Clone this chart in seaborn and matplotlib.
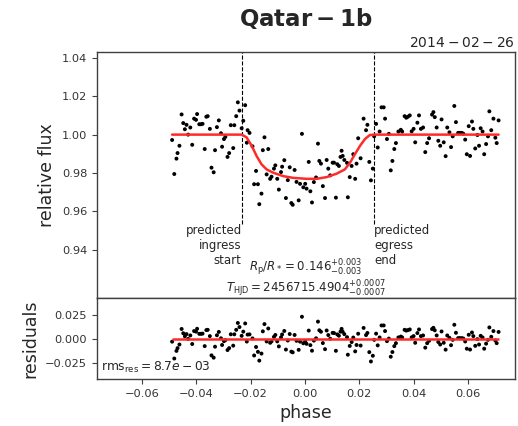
import numpy as np
import pandas as pd
import seaborn as sns
import matplotlib.pyplot as plt

# light curve data
phase = [
    -0.0489, -0.0481, -0.0473, -0.0469, -0.0462, -0.0454, -0.0448, -0.0442, -0.0436, -0.0430,
    -0.0422, -0.0415, -0.0408, -0.0401, -0.0397, -0.0389, -0.0383, -0.0377, -0.0369, -0.0363,
    -0.0358, -0.0350, -0.0344, -0.0336, -0.0331, -0.0324, -0.0317, -0.0309, -0.0305, -0.0298,
    -0.0293, -0.0285, -0.0279, -0.0273, -0.0264, -0.0260, -0.0253, -0.0247, -0.0241, -0.0233,
    -0.0227, -0.0220, -0.0214, -0.0211, -0.0204, -0.0193, -0.0187, -0.0180, -0.0173, -0.0168,
    -0.0160, -0.0155, -0.0149, -0.0141, -0.0135, -0.0128, -0.0123, -0.0114, -0.0109, -0.0102,
    -0.0096, -0.0088, -0.0084, -0.0076, -0.0070, -0.0063, -0.0056, -0.0050, -0.0045, -0.0038,
    -0.0031, -0.0023, -0.0018, -0.0011, -0.0006, 0.0001, 0.0006, 0.0014, 0.0020, 0.0026,
    0.0033, 0.0041, 0.0048, 0.0053, 0.0059, 0.0066, 0.0074, 0.0080, 0.0086, 0.0093,
    0.0102, 0.0107, 0.0114, 0.0119, 0.0125, 0.0131, 0.0135, 0.0139, 0.0145, 0.0155,
    0.0158, 0.0165, 0.0172, 0.0178, 0.0185, 0.0190, 0.0196, 0.0205, 0.0216, 0.0225,
    0.0230, 0.0237, 0.0243, 0.0250, 0.0255, 0.0262, 0.0268, 0.0275, 0.0282, 0.0290,
    0.0295, 0.0302, 0.0309, 0.0316, 0.0322, 0.0329, 0.0335, 0.0344, 0.0353, 0.0358,
    0.0367, 0.0373, 0.0379, 0.0386, 0.0393, 0.0400, 0.0406, 0.0414, 0.0420, 0.0427,
    0.0435, 0.0443, 0.0450, 0.0457, 0.0468, 0.0473, 0.0478, 0.0485, 0.0491, 0.0498,
    0.0503, 0.0511, 0.0518, 0.0524, 0.0532, 0.0538, 0.0544, 0.0550, 0.0556, 0.0564,
    0.0570, 0.0577, 0.0583, 0.0590, 0.0596, 0.0603, 0.0608, 0.0615, 0.0620, 0.0627,
    0.0635, 0.0641, 0.0647, 0.0654, 0.0660, 0.0667, 0.0674, 0.0679, 0.0686, 0.0694,
    0.0701, 0.0706, 0.0713,
]
flux = [
    0.9972, 0.9795, 0.9875, 0.9904, 0.9942, 1.0105, 1.0060, 1.0028, 1.0051, 1.0000,
    1.0037, 0.9947, 1.0083, 1.0077, 1.0107, 1.0054, 1.0054, 1.0056, 0.9925, 1.0093,
    1.0096, 1.0030, 0.9828, 0.9804, 0.9919, 1.0039, 1.0074, 1.0007, 0.9937, 0.9977,
    0.9988, 0.9884, 0.9904, 1.0049, 0.9930, 1.0049, 1.0096, 1.0168, 1.0125, 1.0033,
    1.0072, 1.0153, 0.9958, 1.0023, 1.0009, 0.9939, 0.9742, 0.9811, 0.9742, 0.9638,
    0.9693, 0.9919, 0.9986, 0.9793, 0.9925, 0.9770, 0.9781, 0.9823, 0.9840, 0.9770,
    0.9714, 0.9805, 0.9833, 0.9867, 0.9670, 0.9763, 0.9830, 0.9644, 0.9635, 0.9816,
    0.9754, 0.9658, 0.9744, 1.0004, 0.9726, 0.9744, 0.9719, 0.9858, 0.9705, 0.9647,
    0.9753, 0.9777, 0.9953, 0.9863, 0.9849, 0.9732, 0.9670, 0.9868, 0.9823, 0.9788,
    0.9854, 0.9854, 0.9672, 0.9846, 0.9837, 0.9884, 0.9916, 0.9889, 0.9868, 0.9853,
    0.9674, 0.9779, 0.9837, 0.9898, 0.9770, 0.9849, 0.9981, 0.9877, 1.0083, 1.0023,
    1.0051, 0.9858, 0.9762, 0.9823, 0.9991, 1.0056, 0.9933, 1.0016, 1.0142, 1.0142,
    1.0083, 0.9977, 1.0004, 0.9814, 0.9863, 0.9925, 0.9956, 1.0016, 1.0025, 1.0016,
    1.0096, 1.0088, 1.0093, 1.0100, 1.0017, 1.0030, 0.9960, 1.0062, 1.0100, 1.0030,
    1.0037, 0.9909, 0.9956, 0.9981, 1.0104, 1.0117, 1.0091, 1.0037, 0.9968, 0.9942,
    1.0079, 0.9960, 0.9888, 1.0037, 1.0012, 0.9935, 0.9991, 1.0149, 1.0065, 1.0009,
    1.0009, 1.0009, 1.0005, 0.9974, 0.9898, 1.0044, 0.9889, 1.0068, 1.0030, 0.9928,
    0.9998, 0.9942, 1.0033, 1.0016, 0.9898, 0.9951, 0.9991, 1.0121, 1.0023, 1.0083,
    0.9984, 0.9956, 1.0074,
]
resid = [
    -0.0028, -0.0205, -0.0125, -0.0096, -0.0058, 0.0105, 0.0060, 0.0028, 0.0051, 0.0000,
    0.0037, -0.0053, 0.0083, 0.0077, 0.0107, 0.0054, 0.0054, 0.0056, -0.0075, 0.0093,
    0.0096, 0.0030, -0.0172, -0.0196, -0.0081, 0.0039, 0.0074, 0.0007, -0.0063, -0.0023,
    -0.0012, -0.0116, -0.0096, 0.0049, -0.0070, 0.0049, 0.0096, 0.0168, 0.0125, 0.0033,
    0.0077, 0.0163, -0.0027, 0.0046, 0.0048, 0.0006, -0.0173, -0.0084, -0.0135, -0.0227,
    -0.0153, 0.0080, 0.0156, -0.0026, 0.0110, -0.0040, -0.0025, 0.0022, 0.0042, -0.0025,
    -0.0078, 0.0017, 0.0047, 0.0084, -0.0111, -0.0016, 0.0052, -0.0133, -0.0140, 0.0042,
    -0.0019, -0.0114, -0.0028, 0.0233, -0.0045, -0.0026, -0.0051, 0.0088, -0.0065, -0.0123,
    -0.0017, 0.0007, 0.0182, 0.0091, 0.0076, -0.0043, -0.0107, 0.0089, 0.0041, 0.0003,
    0.0064, 0.0062, -0.0124, 0.0048, 0.0034, 0.0077, 0.0106, 0.0076, 0.0051, 0.0019,
    -0.0165, -0.0073, -0.0032, 0.0015, -0.0130, -0.0063, 0.0055, -0.0069, 0.0116, 0.0041,
    0.0063, -0.0138, -0.0236, -0.0176, -0.0009, 0.0056, -0.0067, 0.0016, 0.0142, 0.0142,
    0.0083, -0.0023, 0.0004, -0.0186, -0.0137, -0.0075, -0.0044, 0.0016, 0.0025, 0.0016,
    0.0096, 0.0088, 0.0093, 0.0100, 0.0017, 0.0030, -0.0040, 0.0062, 0.0100, 0.0030,
    0.0037, -0.0091, -0.0044, -0.0019, 0.0104, 0.0117, 0.0091, 0.0037, -0.0032, -0.0058,
    0.0079, -0.0040, -0.0112, 0.0037, 0.0012, -0.0065, -0.0009, 0.0149, 0.0065, 0.0009,
    0.0009, 0.0009, 0.0005, -0.0026, -0.0102, 0.0044, -0.0111, 0.0068, 0.0030, -0.0072,
    -0.0002, -0.0058, 0.0033, 0.0016, -0.0102, -0.0049, -0.0009, 0.0121, 0.0023, 0.0083,
    -0.0016, -0.0044, 0.0074,
]

# transit model curve (red line)
model_phase = [-0.0489, -0.0233, -0.0215, -0.0196, -0.0178, -0.0160, -0.0141, -0.0117,
               -0.0080, -0.0043, 0.0006, 0.0043, 0.0080, 0.0117, 0.0147, 0.0166,
               0.0184, 0.0203, 0.0221, 0.0239, 0.0255, 0.0713]
model_flux = [1.0000, 1.0000, 0.9986, 0.9942, 0.9889, 0.9846, 0.9819, 0.9802,
              0.9784, 0.9775, 0.9770, 0.9770, 0.9779, 0.9797, 0.9819, 0.9854,
              0.9898, 0.9942, 0.9977, 0.9998, 1.0000, 1.0000]

ingress = -0.0233
egress = 0.0255
rms_res = 8.7e-3

df = pd.DataFrame({'phase': phase, 'flux': flux, 'resid': resid})
model_df = pd.DataFrame({'phase': model_phase, 'flux': model_flux})

sns.set_style("ticks")
plt.rcParams['font.family'] = ['DejaVu Sans']
plt.rcParams['axes.edgecolor'] = '0.25'
plt.rcParams['xtick.color'] = '0.25'
plt.rcParams['ytick.color'] = '0.25'
plt.rcParams['xtick.labelcolor'] = '0.2'
plt.rcParams['ytick.labelcolor'] = '0.2'

fig = plt.figure(figsize=(5.18, 4.26), dpi=100)
ax = fig.add_axes([0.187, 0.3005, 0.807, 0.5775])
axr = fig.add_axes([0.187, 0.1103, 0.807, 0.1902], sharex=ax)

# main light curve
sns.scatterplot(data=df, x='phase', y='flux', ax=ax, color='black', s=8,
                edgecolor='none', zorder=3)
sns.lineplot(data=model_df, x='phase', y='flux', ax=ax, color='#ff2a2a',
             lw=1.8, estimator=None, sort=False, zorder=4)
ax.axvline(ingress, ymin=0.30, ymax=1, color='black', ls='--', lw=0.8)
ax.axvline(egress, ymin=0.30, ymax=1, color='black', ls='--', lw=0.8)
ax.text(ingress, 0.9535, 'predicted\ningress\nstart', ha='right', va='top', fontsize=8.5)
ax.text(egress, 0.9535, 'predicted\negress\nend', ha='left', va='top', fontsize=8.5)
ax.text(0.5, 0.109, r'$R_{\rm p}/R_* = 0.146^{+0.003}_{-0.003}$', transform=ax.transAxes,
        ha='center', va='baseline', fontsize=8.5)
ax.text(0.5, 0.023, r'$T_{\rm HJD} = 2456715.4904^{+0.0007}_{-0.0007}$', transform=ax.transAxes,
        ha='center', va='baseline', fontsize=8.5)
ax.text(1.0, 1.008, r'$2014-02-26$', transform=ax.transAxes, ha='right', va='bottom', fontsize=10)
ax.set_title(r'$\mathbf{Qatar-1b}$', fontsize=16.5, pad=19)

ax.set_xlim(-0.0766, 0.0773)
ax.set_ylim(0.915, 1.043)
ax.set_yticks([0.94, 0.96, 0.98, 1.00, 1.02, 1.04])
ax.set_ylabel('relative flux', fontsize=12.5)
ax.set_xlabel('')
ax.tick_params(axis='x', labelbottom=False)

# residuals
sns.scatterplot(data=df, x='phase', y='resid', ax=axr, color='black', s=8,
                edgecolor='none', zorder=3)
axr.hlines(0, df['phase'].min(), df['phase'].max(), color='#ff2a2a', lw=1.8, zorder=4)
axr.text(0.01, 0.05, r'$\mathrm{rms}_{\mathrm{res}} = %.1fe-03$' % (rms_res * 1e3),
         transform=axr.transAxes, ha='left', va='bottom', fontsize=8.8)
axr.set_ylim(-0.042, 0.043)
axr.set_yticks([-0.025, 0.0, 0.025])
axr.set_xticks([-0.06, -0.04, -0.02, 0.0, 0.02, 0.04, 0.06])
axr.set_ylabel('residuals', fontsize=12.5)
axr.set_xlabel('phase', fontsize=12.5)

for a in (ax, axr):
    a.tick_params(labelsize=8.2, length=3.5, width=0.8)
    for sp in a.spines.values():
        sp.set_linewidth(1.0)

fig.savefig('out.png', dpi=100)
